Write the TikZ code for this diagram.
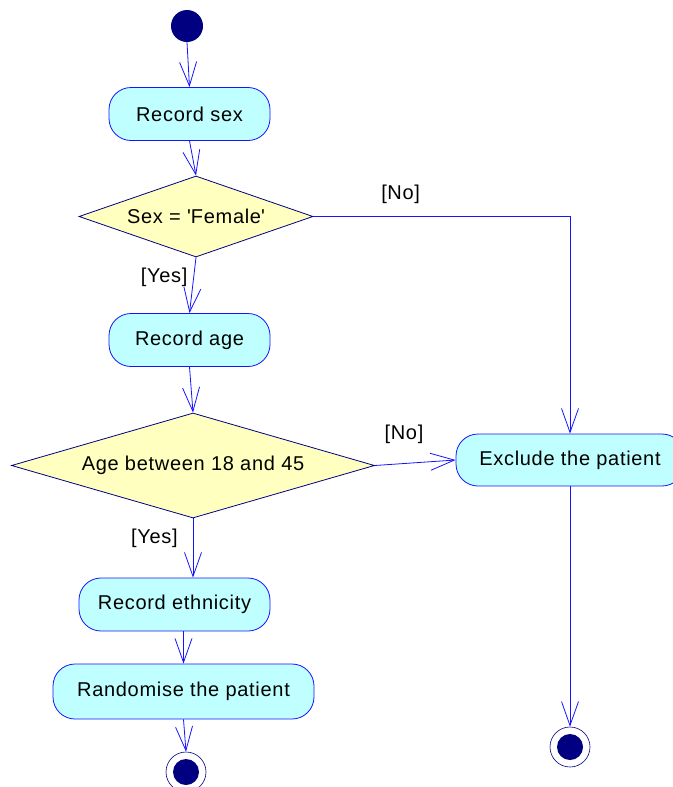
\documentclass[tikz,border=0pt]{standalone}
\usepackage{fontspec}
\setmainfont{Liberation Sans}[LetterSpace=3.5]
\usetikzlibrary{arrows.meta,shapes.geometric}
\definecolor{ActClr}{RGB}{192,255,255}
\definecolor{DecClr}{RGB}{255,255,192}
\definecolor{LineClr}{RGB}{20,20,255}
\definecolor{DotClr}{RGB}{0,0,128}

\begin{document}
\begin{tikzpicture}[x=1pt,y=-1pt,font=\fontsize{20}{24}\selectfont,
  act/.style={draw=LineClr,fill=ActClr,line width=0.8pt,rounded corners=22pt,minimum height=53pt,inner sep=0pt},
  dec/.style={diamond,draw=DotClr,fill=DecClr,line width=0.8pt,inner sep=0pt},
  flow/.style={draw=LineClr,line width=0.8pt,-{Straight Barb[length=24pt,width=17pt]}},
  guard/.style={inner sep=0pt}]
\useasboundingbox (0,0) rectangle (672,787);

\node[circle,fill=DotClr,minimum size=32pt,inner sep=0pt] (start) at (187,26) {};

\node[act,minimum width=161pt] (sex) at (189.5,114) {Record sex};
\node[dec,aspect=2.9,minimum width=234pt,minimum height=81pt] (qsex) at (196,216.5) {Sex = \textquotesingle Female\textquotesingle};
\node[act,minimum width=161pt] (age) at (189.5,340) {Record age};
\node[dec,aspect=3.45,minimum width=363pt,minimum height=105pt] (qage) at (193,465.5) {Age between 18 and 45};
\node[act,minimum width=191pt] (eth) at (174.5,604.5) {Record ethnicity};
\node[act,minimum width=261pt,minimum height=55pt] (rand) at (183.5,691.5) {Randomise the patient};
\node[act,minimum width=228pt,minimum height=52pt] (excl) at (570,460) {Exclude the patient};

\node[circle,draw=DotClr,fill=white,line width=0.6pt,minimum size=40pt,inner sep=0pt] (end1) at (186,772) {};
\node[circle,fill=DotClr,minimum size=26pt,inner sep=0pt] (end1dot) at (end1) {};
\node[circle,draw=DotClr,fill=white,line width=0.6pt,minimum size=40pt,inner sep=0pt] (end2) at (570,747) {};
\node[circle,fill=DotClr,minimum size=26pt,inner sep=0pt] (end2dot) at (end2) {};

\draw[flow] (start.south) -- (sex.north);
\draw[flow] (sex.south) -- (qsex.north);
\draw[flow] (qsex.south) -- node[guard,pos=0.35,left=6pt]{[Yes]} (age.north);
\draw[flow] (qsex.east) -- node[guard,pos=0.34,above=12pt]{[No]} (excl.north |- qsex.east) -- (excl.north);
\draw[flow] (age.south) -- (qage.north);
\draw[flow] (qage.east) -- node[guard,pos=0.36,above=19pt]{[No]} (excl.west);
\draw[flow] (qage.south) -- node[guard,pos=0.33,left=15pt]{[Yes]} (qage.south |- eth.north);
\draw[flow] (rand.north |- eth.south) -- (rand.north);
\draw[flow] (rand.south) -- (end1.north);
\draw[flow] (excl.south) -- (end2.north);

\end{tikzpicture}
\end{document}
